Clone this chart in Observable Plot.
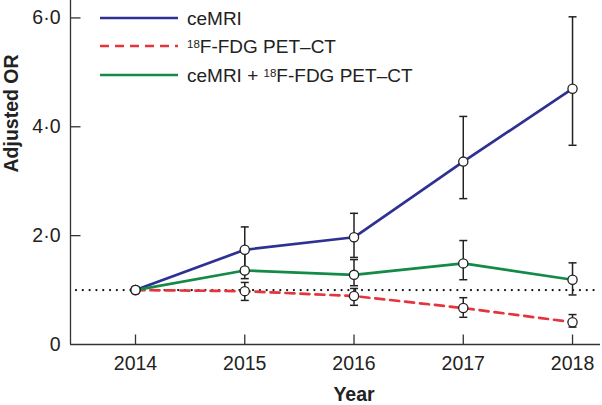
<!DOCTYPE html>
<html>
<head>
<meta charset="utf-8">
<script src="https://cdn.jsdelivr.net/npm/d3@7"></script>
<script src="https://cdn.jsdelivr.net/npm/@observablehq/plot@0.6"></script>
<style>
  html, body { margin: 0; padding: 0; background: #fff; }
</style>
</head>
<body>
<div id="chart"></div>
<script>
// ---- data ----
const years = [2014, 2015, 2016, 2017, 2018];
const yTicks = [0, 2, 4, 6];

const seriesNames = ["ceMRI", "18F-FDG PET–CT", "ceMRI + 18F-FDG PET–CT"];
const seriesColors = ["#2e3192", "#e2353d", "#138a47"];
const seriesDash = [null, "9,6", null];

const ceMRI    = [1.00, 1.74, 1.97, 3.36, 4.70];
const ceMRILo  = [null, 1.40, 1.60, 2.68, 3.66];
const ceMRIHi  = [null, 2.16, 2.41, 4.19, 6.02];

const pet      = [1.00, 0.98, 0.89, 0.67, 0.41];
const petLo    = [null, 0.81, 0.72, 0.50, 0.32];
const petHi    = [null, 1.14, 1.03, 0.86, 0.55];

const combo    = [1.00, 1.36, 1.28, 1.49, 1.19];
const comboLo  = [null, 1.21, 1.08, 1.19, 0.91];
const comboHi  = [null, 1.70, 1.56, 1.91, 1.50];

const refOR = 1;

// ---- build table ----
const valueSets = [[ceMRI, ceMRILo, ceMRIHi], [pet, petLo, petHi], [combo, comboLo, comboHi]];
const rows = [];
valueSets.forEach(([v, lo, hi], s) => {
  years.forEach((yr, i) => rows.push({series: seriesNames[s], s, year: yr, or: v[i], lo: lo[i], hi: hi[i]}));
});
const bars = rows.filter(d => d.lo != null);

// custom symbols
const hCap = {draw(ctx, size) { const r = Math.sqrt(size / Math.PI); ctx.moveTo(-r, 0); ctx.lineTo(r, 0); }};
const upTick = {draw(ctx, size) { const r = Math.sqrt(size / Math.PI); ctx.moveTo(0, 0); ctx.lineTo(0, -r); }};
const rightTick = {draw(ctx, size) { const r = Math.sqrt(size / Math.PI); ctx.moveTo(0, 0); ctx.lineTo(r, 0); }};

const ink = "#222";
const xDomain = [2013.405, 2018.256];

const marks = [
  // dotted reference line
  Plot.ruleY([refOR], {stroke: "#111", strokeWidth: 2.3, strokeDasharray: "0.01,6.8", strokeLinecap: "round", insetLeft: 6}),
  // axes lines
  Plot.ruleY([0], {stroke: "#333", strokeWidth: 1.3}),
  Plot.ruleX([xDomain[0]], {stroke: "#333", strokeWidth: 1.3}),
  // inward ticks
  Plot.dot(years, {x: d => d, y: () => 0, symbol: upTick, r: 10, stroke: "#333", strokeWidth: 1.3, fill: "none"}),
  Plot.dot(yTicks.filter(d => d > 0), {x: () => xDomain[0], y: d => d, symbol: rightTick, r: 10, stroke: "#333", strokeWidth: 1.3, fill: "none"}),
  Plot.axisX(years, {tickSize: 0, tickPadding: 12, tickFormat: d => String(d), fontSize: 19.5, fill: ink, label: null}),
  Plot.axisY(yTicks, {tickSize: 0, tickPadding: 10, tickFormat: d => d === 0 ? "0" : d.toFixed(1).replace(".", "·"), fontSize: 19.5, fill: ink, label: null}),
  // error bars
  Plot.ruleX(bars, {x: "year", y1: "lo", y2: "hi", stroke: ink, strokeWidth: 1.5}),
  Plot.dot(bars, {x: "year", y: "lo", symbol: hCap, r: 4, stroke: ink, strokeWidth: 1.5}),
  Plot.dot(bars, {x: "year", y: "hi", symbol: hCap, r: 4, stroke: ink, strokeWidth: 1.5}),
];
// series lines
seriesNames.forEach((name, s) => {
  marks.push(Plot.line(rows.filter(d => d.s === s), {x: "year", y: "or", stroke: seriesColors[s], strokeWidth: 2.7, strokeDasharray: seriesDash[s]}));
});
marks.push(
  Plot.dot(rows, {x: "year", y: "or", r: 4.6, fill: "white", stroke: ink, strokeWidth: 1.3}),
  Plot.text(["Year"], {x: () => 2016, frameAnchor: "bottom", dy: 56, lineAnchor: "bottom", fontWeight: "bold", fontSize: 19.5, fill: ink}),
  Plot.text(["Adjusted OR"], {frameAnchor: "left", dx: -59, rotate: -90, fontWeight: "bold", fontSize: 19.5, fill: ink})
);

const chart = Plot.plot({
  width: 602,
  height: 405,
  marginLeft: 70,
  marginRight: 2,
  marginTop: 0,
  marginBottom: 61,
  style: "font-family: 'Liberation Sans', Arial, sans-serif; font-size: 18px; color: #222; background: white; overflow: visible;",
  x: {type: "linear", domain: xDomain, axis: null},
  y: {domain: [0, 6.32], axis: null},
  marks
});

// legend inside plot (derived from series arrays)
const svg = d3.select(chart);
const lg = svg.append("g")
  .attr("font-family", "'Liberation Sans', Arial, sans-serif")
  .attr("font-size", 19)
  .attr("text-anchor", "start")
  .attr("fill", ink);
const rowY = [18, 46, 75];
seriesNames.forEach((name, s) => {
  lg.append("line").attr("x1", 100).attr("x2", 178).attr("y1", rowY[s]).attr("y2", rowY[s])
    .attr("stroke", seriesColors[s]).attr("stroke-width", 2.7)
    .attr("stroke-dasharray", seriesDash[s]);
  const t = lg.append("text").attr("x", 187).attr("y", rowY[s]).attr("dy", "0.36em").attr("text-anchor", "start");
  const parts = name.split("18");
  parts.forEach((p, k) => {
    if (k > 0) t.append("tspan").attr("font-size", 11.5).attr("baseline-shift", "5.5px").text("18");
    if (p) t.append("tspan").text(p);
  });
});

document.getElementById("chart").appendChild(chart);
</script>
</body>
</html>
